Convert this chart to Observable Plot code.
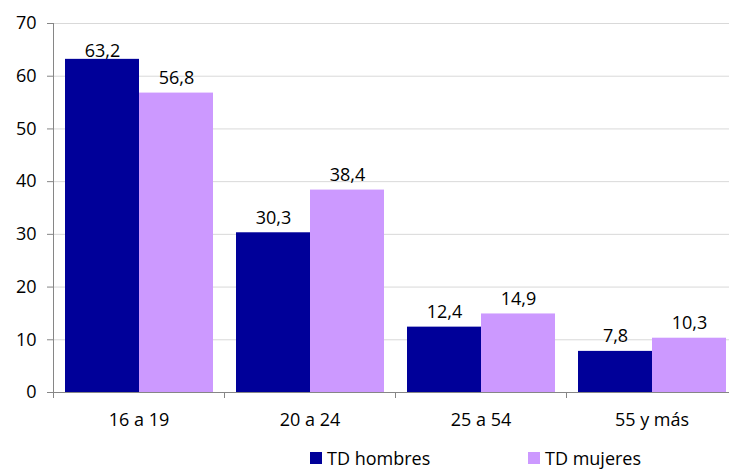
<!DOCTYPE html>
<html>
<head>
<meta charset="utf-8">
<script src="https://cdn.jsdelivr.net/npm/d3@7"></script>
<script src="https://cdn.jsdelivr.net/npm/@observablehq/plot@0.6"></script>
<style>
  html, body { margin: 0; padding: 0; background: #fff; overflow: hidden; width: 729px; height: 470px; }
  #chart { position: relative; width: 729px; height: 470px; overflow: hidden; }
  #chart svg { max-width: none !important; position: absolute; left: 0; top: 0; }
  .item { position: absolute; top: 446px; height: 24px; line-height: 24px; display: flex; align-items: center; font-family: "Open Sans", sans-serif; font-size: 18px; color: #000; white-space: nowrap; }
  .sw { width: 12px; height: 12px; margin-right: 5px; }
</style>
</head>
<body>
<div id="chart"></div>
<script>
const groups = ["16 a 19", "20 a 24", "25 a 54", "55 y más"];
const seriesNames = ["TD hombres", "TD mujeres"];
const hombres = [63.2, 30.3, 12.4, 7.8];
const mujeres = [56.8, 38.4, 14.9, 10.3];
const colors = ["#000099", "#cc99ff"];
const yTicks = [0, 10, 20, 30, 40, 50, 60, 70];

const data = [];
groups.forEach((g, i) => {
  data.push({group: g, series: seriesNames[0], value: hombres[i]});
  data.push({group: g, series: seriesNames[1], value: mujeres[i]});
});
const fmt = v => v.toFixed(1).replace(".", ",");

const font = "'Open Sans', sans-serif";
const plot = Plot.plot({
  width: 740,
  height: 440,
  marginTop: 23,
  marginBottom: 48,
  marginLeft: 51,
  marginRight: 2,
  style: {fontFamily: font, fontSize: "18px", color: "#000", background: "transparent", maxWidth: "none"},
  fx: {domain: groups, padding: 0, label: null},
  x: {domain: seriesNames, paddingInner: 0, paddingOuter: 0.147, axis: null},
  y: {domain: [0, 70], ticks: yTicks, label: null},
  color: {domain: seriesNames, range: colors},
  marks: [
    Plot.gridY(yTicks, {stroke: "#d9d9d9", strokeOpacity: 1}),
    Plot.barY(data, {fx: "group", x: "series", y: "value", fill: "series"}),
    Plot.ruleY([0], {stroke: "#868686"}),
    Plot.frame({anchor: "left", stroke: "#868686", facetAnchor: "left"}),
    Plot.frame({anchor: "left", stroke: "#868686", insetTop: 369, insetBottom: -5}),
    Plot.axisY(yTicks, {anchor: "left", tickSize: 6, tickPadding: 11, stroke: "#868686", fill: "#000", label: null, fontSize: 18}),
    Plot.axisFx({anchor: "bottom", tickSize: 0, tickPadding: 21, label: null, fill: "#000", fontSize: 18}),
    Plot.text(data.filter(d => d.value < 60), {fx: "group", x: "series", y: "value", text: d => fmt(d.value), dy: -15, fill: "#000", fontSize: 18}),
    Plot.text(data.filter(d => d.value >= 60), {fx: "group", x: "series", y: "value", text: d => fmt(d.value), dy: -8, fill: "#000", fontSize: 18})
  ]
});
const chart = document.getElementById("chart");
chart.appendChild(plot);

const legendLeft = [310, 528];
seriesNames.forEach((s, i) => {
  const item = document.createElement("div");
  item.className = "item";
  item.style.left = legendLeft[i] + "px";
  const sw = document.createElement("span");
  sw.className = "sw";
  sw.style.background = colors[i];
  const t = document.createElement("span");
  t.textContent = s;
  item.appendChild(sw);
  item.appendChild(t);
  chart.appendChild(item);
});
</script>
</body>
</html>
